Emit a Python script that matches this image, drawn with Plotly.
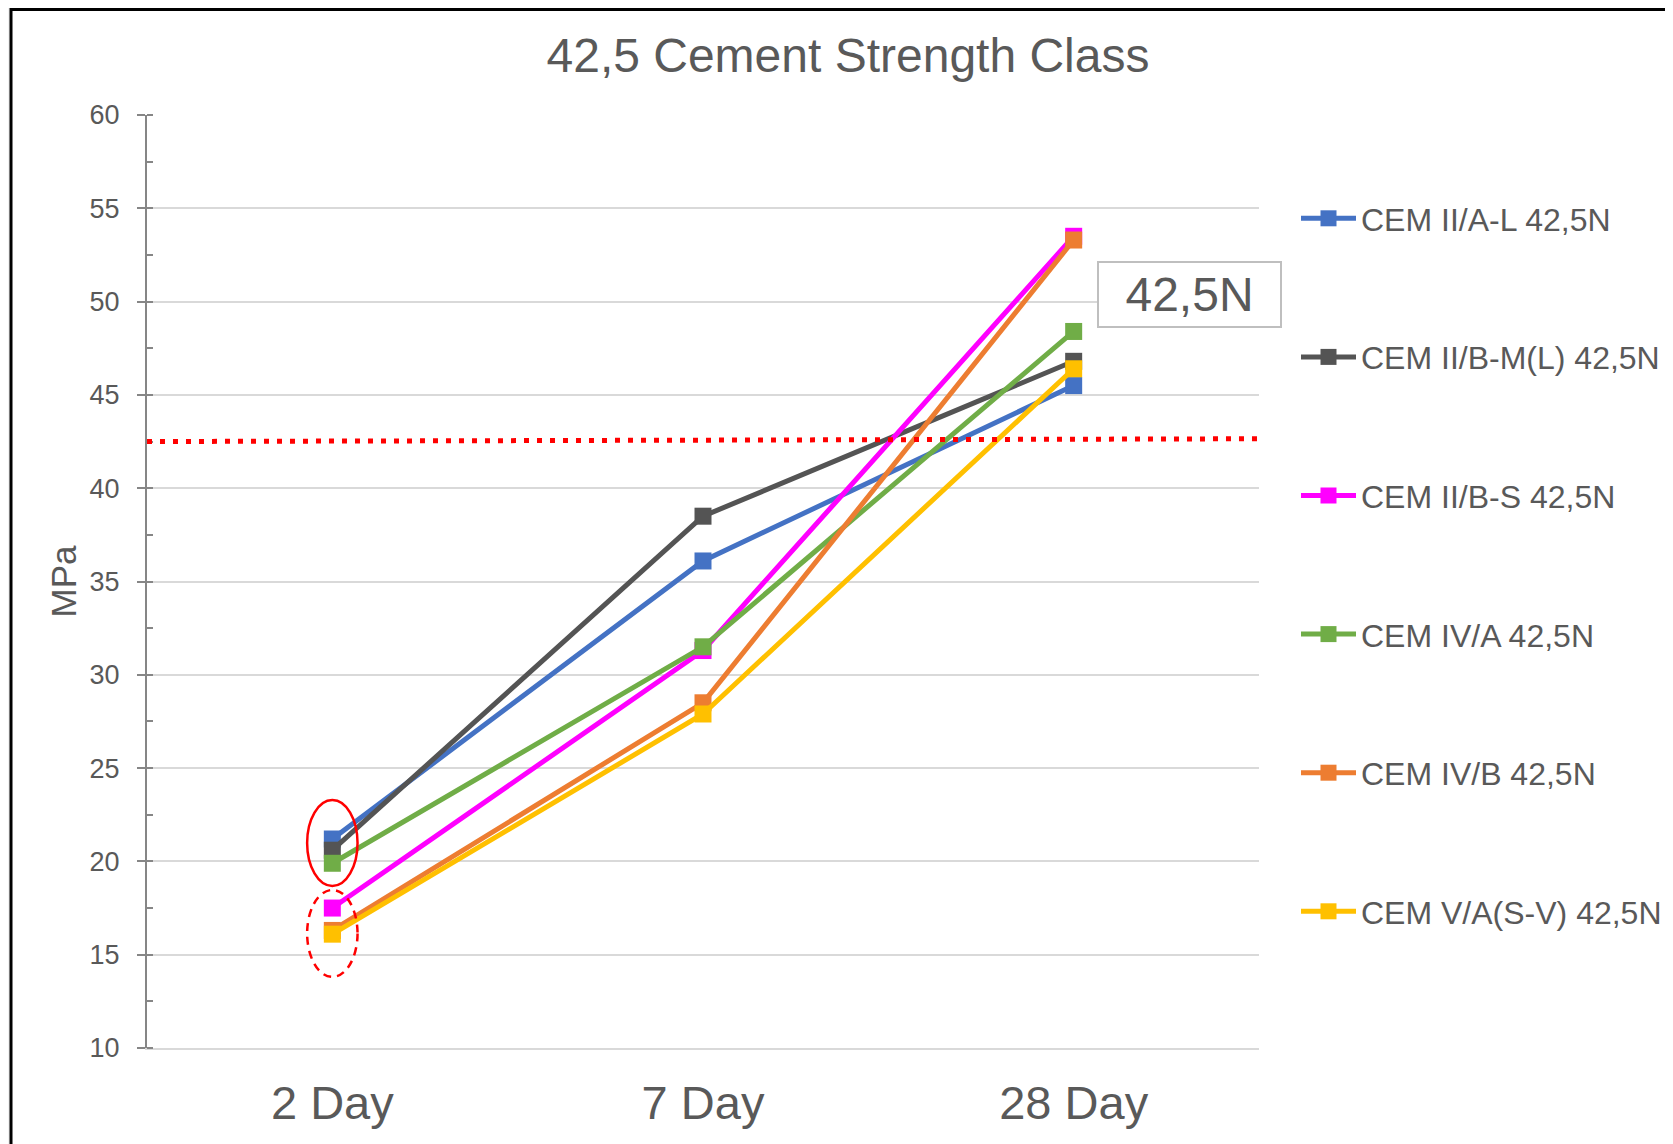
import plotly.graph_objects as go

# ---- data ----
categories = ["2 Day", "7 Day", "28 Day"]
series_names = [
    "CEM II/A-L 42,5N",
    "CEM II/B-M(L) 42,5N",
    "CEM II/B-S 42,5N",
    "CEM IV/A 42,5N",
    "CEM IV/B 42,5N",
    "CEM V/A(S-V) 42,5N",
]
cem_ii_a_l = [21.2, 36.1, 45.5]
cem_ii_b_ml = [20.6, 38.5, 46.8]
cem_ii_b_s = [17.5, 31.3, 53.5]
cem_iv_a = [19.9, 31.5, 48.4]
cem_iv_b = [16.3, 28.5, 53.3]
cem_v_a = [16.1, 27.9, 46.4]
series_values = [cem_ii_a_l, cem_ii_b_ml, cem_ii_b_s, cem_iv_a, cem_iv_b, cem_v_a]
series_colors = ["#4472C4", "#545454", "#FF00FF", "#70AD47", "#ED7D31", "#FFC000"]

threshold_start = 42.5
threshold_end = 42.65
y_ticks = [10, 15, 20, 25, 30, 35, 40, 45, 50, 55, 60]

# ellipse highlights (data coords)
solid_ellipse = dict(x0=-0.068, x1=0.068, y0=18.68, y1=23.29)
dashed_ellipse = dict(x0=-0.068, x1=0.068, y0=13.81, y1=18.47)

OFF = 8  # page body margin
W, H = 1673 - OFF, 1144 - OFF
ML, MT = 147 - OFF, 115 - OFF
PW = 1259 - 147
PH = 1048 - 115
MR = W - ML - PW
MB = H - MT - PH

def px_to_paper_x(px):  # px in screenshot coordinates
    return (px - OFF - ML) / PW

def px_to_paper_y(py):
    return 1 - (py - OFF - MT) / PH

text_col = "#595959"
font_family = "Liberation Sans, Arial, sans-serif"

fig = go.Figure()
for name, vals, col in zip(series_names, series_values, series_colors):
    fig.add_trace(go.Scatter(
        x=categories, y=vals, name=name, mode="lines+markers",
        line=dict(color=col, width=5),
        marker=dict(symbol="square", size=17, color=col),
        legendgroup=name,
    ))

shapes = [
    dict(type="rect", xref="paper", yref="paper",
         x0=px_to_paper_x(11), x1=px_to_paper_x(1673 + 40),
         y0=px_to_paper_y(1144 + 40), y1=px_to_paper_y(OFF + 1.5),
         fillcolor="white", line=dict(color="black", width=3), layer="below"),
    dict(type="line", xref="x", yref="y", x0=-0.5, x1=2.5,
         y0=threshold_start, y1=threshold_end,
         line=dict(color="#FF0000", width=5, dash="5px,8px"), layer="above"),
    dict(type="circle", xref="x", yref="y", **solid_ellipse,
         line=dict(color="#FF0000", width=2.5), layer="above"),
    dict(type="circle", xref="x", yref="y", **dashed_ellipse,
         line=dict(color="#FF0000", width=2.5, dash="8px,6px"), layer="above"),
]

fig.update_layout(
    width=W, height=H,
    margin=dict(l=ML, r=MR, t=MT, b=MB, autoexpand=False),
    paper_bgcolor="#F2F2F2",
    plot_bgcolor="white",
    font=dict(family=font_family, color=text_col),
    title=dict(text="42,5 Cement Strength Class", x=(848 - OFF) / W, xanchor="center",
               y=1 - (55 - OFF) / H, yanchor="middle",
               font=dict(size=48, color=text_col, family=font_family)),
    shapes=shapes,
    showlegend=True,
    legend=dict(x=px_to_paper_x(1296), xanchor="left",
                y=px_to_paper_y(191), yanchor="top",
                font=dict(size=32, color=text_col, family=font_family),
                tracegroupgap=94, itemwidth=55, bgcolor="rgba(0,0,0,0)",
                traceorder="grouped"),
    annotations=[dict(text="42,5N", xref="paper", yref="paper",
                      x=px_to_paper_x(1189.5), y=px_to_paper_y(294.5),
                      xanchor="center", yanchor="middle", showarrow=False,
                      width=181, height=63, borderpad=0, borderwidth=2,
                      bordercolor="#BFBFBF", bgcolor="white",
                      font=dict(size=48, color=text_col, family=font_family))],
)

fig.update_xaxes(
    type="category", range=[-0.5, 2.5],
    showline=True, linecolor="#D9D9D9", linewidth=2,
    showgrid=False, ticks="", ticklabelstandoff=13,
    tickfont=dict(size=47, color=text_col, family=font_family),
    zeroline=False,
)
fig.update_yaxes(
    range=[10, 60], tickvals=y_ticks,
    showline=True, linecolor="#868686", linewidth=2,
    showgrid=True, gridcolor="#D9D9D9", gridwidth=2,
    ticks="outside", ticklen=8, tickwidth=2, tickcolor="#868686",
    ticklabelstandoff=12,
    tickfont=dict(size=27, color=text_col, family=font_family),
    minor=dict(ticks="inside", ticklen=6, tickwidth=2, tickcolor="#868686",
               dtick=2.5, tick0=10, showgrid=False),
    title=dict(text="MPa", standoff=2,
               font=dict(size=35, color=text_col, family=font_family)),
    zeroline=False,
)

fig.write_html("out.html")
